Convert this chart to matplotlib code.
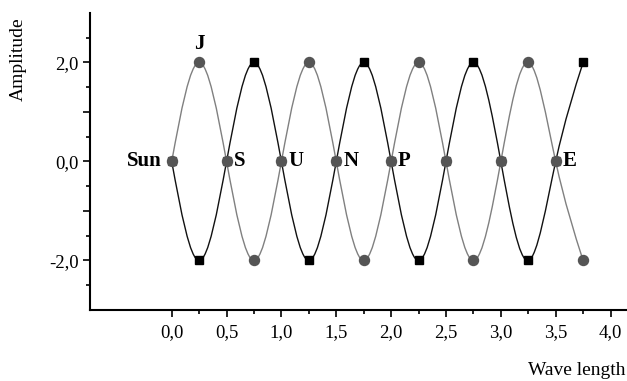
import numpy as np
import matplotlib
matplotlib.use("Agg")
import matplotlib.pyplot as plt
from matplotlib.path import Path
from matplotlib.patches import PathPatch

# data
x_vals = [0.0, 0.25, 0.5, 0.75, 1.0, 1.25, 1.5, 1.75, 2.0, 2.25, 2.5, 2.75, 3.0, 3.25, 3.5, 3.75]
circle_y = [0, 2, 0, -2, 0, 2, 0, -2, 0, 2, 0, -2, 0, 2, 0, -2]
square_y = [0, -2, 0, 2, 0, -2, 0, 2, 0, -2, 0, 2, 0, -2, 0, 2]

point_names = ["Sun", "J", "S", "U", "N", "P", "E"]
name_x = [0.0, 0.25, 0.5, 1.0, 1.5, 2.0, 3.5]
name_y = [0, 2, 0, 0, 0, 0, 0]

x_ticks = [0.0, 0.5, 1.0, 1.5, 2.0, 2.5, 3.0, 3.5, 4.0]
x_minor = [0.25, 0.75, 1.25, 1.75, 2.25, 2.75, 3.25, 3.75]
y_ticks = [-2, -1, 0, 1, 2]
y_labels = ["-2,0", "", "0,0", "", "2,0"]
y_minor = [-2.5, -1.5, -0.5, 0.5, 1.5, 2.5]

SERIF = ["Liberation Serif", "DejaVu Serif"]
plt.rcParams["font.family"] = SERIF


def smooth_path(x, y):
    # cubic spline drawn as bezier segments (natural end conditions)
    x = np.asarray(x, float)
    y = np.asarray(y, float)
    n = len(x)
    h = x[1] - x[0]
    A = np.zeros((n, n))
    b = np.zeros(n)
    A[0, 0], A[0, 1] = 2, 1
    b[0] = 3 * (y[1] - y[0]) / h
    A[-1, -2], A[-1, -1] = 1, 2
    b[-1] = 3 * (y[-1] - y[-2]) / h
    for i in range(1, n - 1):
        A[i, i - 1], A[i, i], A[i, i + 1] = 1, 4, 1
        b[i] = 3 * (y[i + 1] - y[i - 1]) / h
    m = np.linalg.solve(A, b)
    verts = [(x[0], y[0])]
    codes = [Path.MOVETO]
    for i in range(n - 1):
        verts += [(x[i] + h / 3, y[i] + m[i] * h / 3),
                  (x[i + 1] - h / 3, y[i + 1] - m[i + 1] * h / 3),
                  (x[i + 1], y[i + 1])]
        codes += [Path.CURVE4] * 3
    return Path(verts, codes)


fig = plt.figure(figsize=(6.27, 3.81), dpi=100)
ax = fig.add_axes([0.1435, 0.1864, 0.8565, 0.7795])

ax.add_patch(PathPatch(smooth_path(x_vals, circle_y), fill=False, ec="#808080", lw=1.0, zorder=2))
ax.add_patch(PathPatch(smooth_path(x_vals, square_y), fill=False, ec="#111111", lw=1.0, zorder=2))

xs = np.array(x_vals)
sq = np.array(square_y)
peak = sq != 0
ax.plot(xs[peak], sq[peak], ls="none", marker="s", ms=6.2, color="black", zorder=3)
ax.plot(xs[~peak], sq[~peak], ls="none", marker="s", ms=6.2, color="#555555", zorder=3)
ax.plot(xs, circle_y, ls="none", marker="o", ms=7.2, color="#555555", mec="#555555", zorder=4)

for name, nx, ny in zip(point_names, name_x, name_y):
    if name == "Sun":
        ax.annotate(name, (nx, ny), xytext=(-7, 0), textcoords="offset points",
                    ha="right", va="center", fontsize=15, fontweight="bold")
    elif ny > 0:
        ax.annotate(name, (nx, ny), xytext=(0, 6), textcoords="offset points",
                    ha="center", va="bottom", fontsize=15, fontweight="bold")
    else:
        ax.annotate(name, (nx, ny), xytext=(5, 0), textcoords="offset points",
                    ha="left", va="center", fontsize=15, fontweight="bold")

ax.set_xlim(-0.745, 4.15)
ax.set_ylim(-3, 3)
ax.spines["top"].set_visible(False)
ax.spines["right"].set_visible(False)
for s in ("left", "bottom"):
    ax.spines[s].set_linewidth(1.5)

ax.set_xticks(x_ticks)
ax.set_xticklabels([f"{v:.1f}".replace(".", ",") for v in x_ticks])
ax.set_xticks(x_minor, minor=True)
ax.set_yticks(y_ticks)
ax.set_yticklabels(y_labels)
ax.set_yticks(y_minor, minor=True)
ax.tick_params(which="major", length=5, width=1.2, labelsize=13.5, pad=3)
ax.tick_params(which="minor", length=3, width=1.2)
ax.tick_params(axis="x", which="major", pad=5)

fig.text(0.029, 0.845, "Amplitude", rotation=90, ha="center", va="center", fontsize=14)
fig.text(0.997, 0.028, "Wave length", ha="right", va="center", fontsize=14)

fig.savefig("out.png", dpi=100, facecolor="white")
